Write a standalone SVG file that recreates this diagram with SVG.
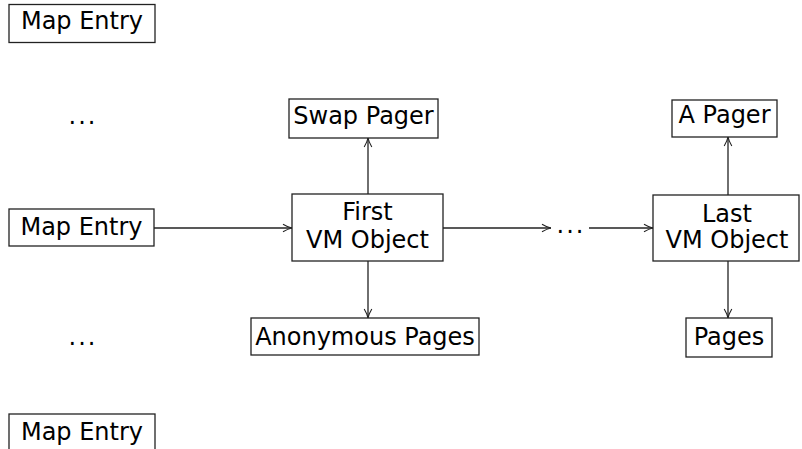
<svg xmlns="http://www.w3.org/2000/svg" width="802" height="449" viewBox="0 0 802 449">
  <style>
    .box { fill: #fff; stroke: #222; stroke-width: 1.3; }
    .lbl { font-family: "DejaVu Sans", "Liberation Sans", sans-serif; font-size: 24px; fill: #000; text-anchor: middle; }
    .dots { letter-spacing: 2px; }
    .edge { fill: none; stroke: #222; stroke-width: 1.3; }
  </style>
  <defs>
    <marker id="arr" viewBox="0 0 10 10" refX="10" refY="5" markerWidth="10" markerHeight="10" markerUnits="userSpaceOnUse" orient="auto">
      <path d="M1,1.2 Q6,4.2 10,5 Q6,5.8 1,8.8" fill="none" stroke="#222" stroke-width="1.1"/>
    </marker>
  </defs>
  <rect width="802" height="449" fill="#fff"/>

  <g id="connectors">
    <line class="edge" x1="154" y1="228" x2="292" y2="228" marker-end="url(#arr)"/>
    <line class="edge" x1="368" y1="194" x2="368" y2="138" marker-end="url(#arr)"/>
    <line class="edge" x1="368" y1="261" x2="368" y2="318" marker-end="url(#arr)"/>
    <line class="edge" x1="443" y1="228" x2="551" y2="228" marker-end="url(#arr)"/>
    <line class="edge" x1="589" y1="228" x2="653" y2="228" marker-end="url(#arr)"/>
    <line class="edge" x1="728" y1="195" x2="728" y2="137" marker-end="url(#arr)"/>
    <line class="edge" x1="728" y1="261" x2="728" y2="318" marker-end="url(#arr)"/>
  </g>

  <g id="map-entry-top">
    <rect class="box" x="9" y="4.5" width="146" height="38"/>
    <text class="lbl" x="82" y="29">Map Entry</text>
  </g>
  <g id="dots-top">
    <text class="lbl dots" x="83" y="124">...</text>
  </g>
  <g id="map-entry-mid">
    <rect class="box" x="9" y="209" width="145" height="37"/>
    <text class="lbl" x="81.5" y="235">Map Entry</text>
  </g>
  <g id="dots-bottom">
    <text class="lbl dots" x="83" y="345">...</text>
  </g>
  <g id="map-entry-bottom">
    <rect class="box" x="9" y="414" width="146" height="50"/>
    <text class="lbl" x="82" y="440">Map Entry</text>
  </g>

  <g id="first-vm-object">
    <rect class="box" x="292" y="194" width="151" height="67"/>
    <text class="lbl" x="367.5" y="220">First</text>
    <text class="lbl" x="367.5" y="248">VM Object</text>
  </g>
  <g id="swap-pager">
    <rect class="box" x="289" y="99" width="149" height="39"/>
    <text class="lbl" x="363.5" y="124">Swap Pager</text>
  </g>
  <g id="anonymous-pages">
    <rect class="box" x="251" y="318" width="228" height="37"/>
    <text class="lbl" x="365" y="345">Anonymous Pages</text>
  </g>

  <g id="dots-middle">
    <text class="lbl dots" x="571" y="233">...</text>
  </g>

  <g id="last-vm-object">
    <rect class="box" x="653" y="195" width="146" height="66"/>
    <text class="lbl" x="727" y="222">Last</text>
    <text class="lbl" x="727" y="248">VM Object</text>
  </g>
  <g id="a-pager">
    <rect class="box" x="672" y="100" width="105" height="37"/>
    <text class="lbl" x="724.5" y="123">A Pager</text>
  </g>
  <g id="pages">
    <rect class="box" x="686" y="318" width="86" height="39"/>
    <text class="lbl" x="729" y="345">Pages</text>
  </g>
</svg>
